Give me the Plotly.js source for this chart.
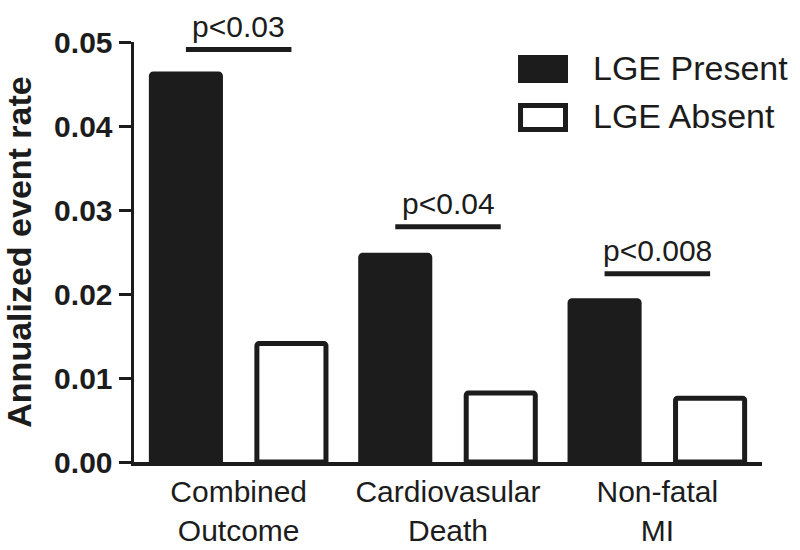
<!DOCTYPE html>
<html>
<head>
<meta charset="utf-8">
<script src="https://cdn.plot.ly/plotly-3.0.1.min.js"></script>
<style>html,body{margin:0;padding:0;background:#fff;}#chart{width:800px;height:550px;}</style>
</head>
<body>
<div id="chart"></div>
<script>
// ---- data ----
const categories = ['Combined<br>Outcome', 'Cardiovasular<br>Death', 'Non-fatal<br>MI'];
const lgePresent = [0.0462, 0.0246, 0.0192];
const lgeAbsent  = [0.0141, 0.0082, 0.0076];
const pLabels    = ['p<0.03', 'p<0.04', 'p<0.008'];
const bracketY   = [0.0491, 0.0280, 0.0224];
const yTicks     = [0, 0.01, 0.02, 0.03, 0.04, 0.05];
const seriesNames = ['LGE Present', 'LGE Absent'];

// ---- styling ----
const INK = '#1c1c1c';
const FONT = 'Liberation Sans, Arial, Helvetica, sans-serif';
const idx = categories.map((_, i) => i);
const barW = 0.33;
const half = 0.252;

const traces = [
  {
    type: 'bar', name: seriesNames[0], x: idx, y: lgePresent,
    width: barW, offset: -half - barW / 2,
    marker: { color: INK, line: { color: INK, width: 5 }, cornerradius: 2 },
    showlegend: false, hoverinfo: 'x+y'
  },
  {
    type: 'bar', name: seriesNames[1], x: idx, y: lgeAbsent,
    width: barW, offset: half - barW / 2,
    marker: { color: '#ffffff', line: { color: INK, width: 5 }, cornerradius: 2 },
    showlegend: false, hoverinfo: 'x+y'
  }
];

const shapes = [];
const annotations = [];
idx.forEach(i => {
  shapes.push({
    type: 'line', xref: 'x', yref: 'y',
    x0: i - half, x1: i + half, y0: bracketY[i], y1: bracketY[i],
    line: { color: INK, width: 5 }
  });
  annotations.push({
    xref: 'x', yref: 'y', x: i, y: bracketY[i], yanchor: 'bottom', xanchor: 'center',
    yshift: 5, text: pLabels[i], showarrow: false,
    font: { family: FONT, size: 30, color: INK }
  });
});

// custom legend (large swatches)
const legendRows = [
  { y0: 0.9083, y1: 0.9631, fill: INK },
  { y0: 0.7917, y1: 0.8488, fill: '#ffffff' }
];
legendRows.forEach((r, k) => {
  shapes.push({
    type: 'rect', xref: 'paper', yref: 'paper',
    x0: 0.6155, x1: 0.6871, y0: r.y0, y1: r.y1,
    fillcolor: r.fill, line: { color: INK, width: 5 }
  });
  annotations.push({
    xref: 'paper', yref: 'paper', x: 0.727, y: (r.y0 + r.y1) / 2,
    xanchor: 'left', yanchor: 'middle', yshift: 1, text: seriesNames[k], showarrow: false,
    font: { family: FONT, size: 34, color: INK }
  });
});

const layout = {
  width: 800, height: 550,
  margin: { l: 134, r: 38, t: 42, b: 88 },
  paper_bgcolor: '#ffffff', plot_bgcolor: '#ffffff',
  showlegend: false,
  xaxis: {
    range: [-0.5, 2.5],
    tickmode: 'array', tickvals: idx, ticktext: categories,
    showline: true, linecolor: INK, linewidth: 4,
    ticks: '', showgrid: false, zeroline: false,
    tickfont: { family: FONT, size: 30, color: INK }
  },
  yaxis: {
    range: [0, 0.05],
    tickmode: 'array', tickvals: yTicks, ticktext: yTicks.map(v => v.toFixed(2)),
    showline: true, linecolor: INK, linewidth: 3.5,
    ticks: 'outside', ticklen: 12, tickwidth: 3, tickcolor: INK,
    showgrid: false, zeroline: false,
    tickfont: { family: FONT, size: 30, color: INK, weight: 700 },
    title: { text: 'Annualized event rate', standoff: 20,
             font: { family: FONT, size: 34, color: INK, weight: 700 } }
  },
  shapes: shapes,
  annotations: annotations
};

Plotly.newPlot('chart', traces, layout, { displayModeBar: false, staticPlot: true });
</script>
</body>
</html>
